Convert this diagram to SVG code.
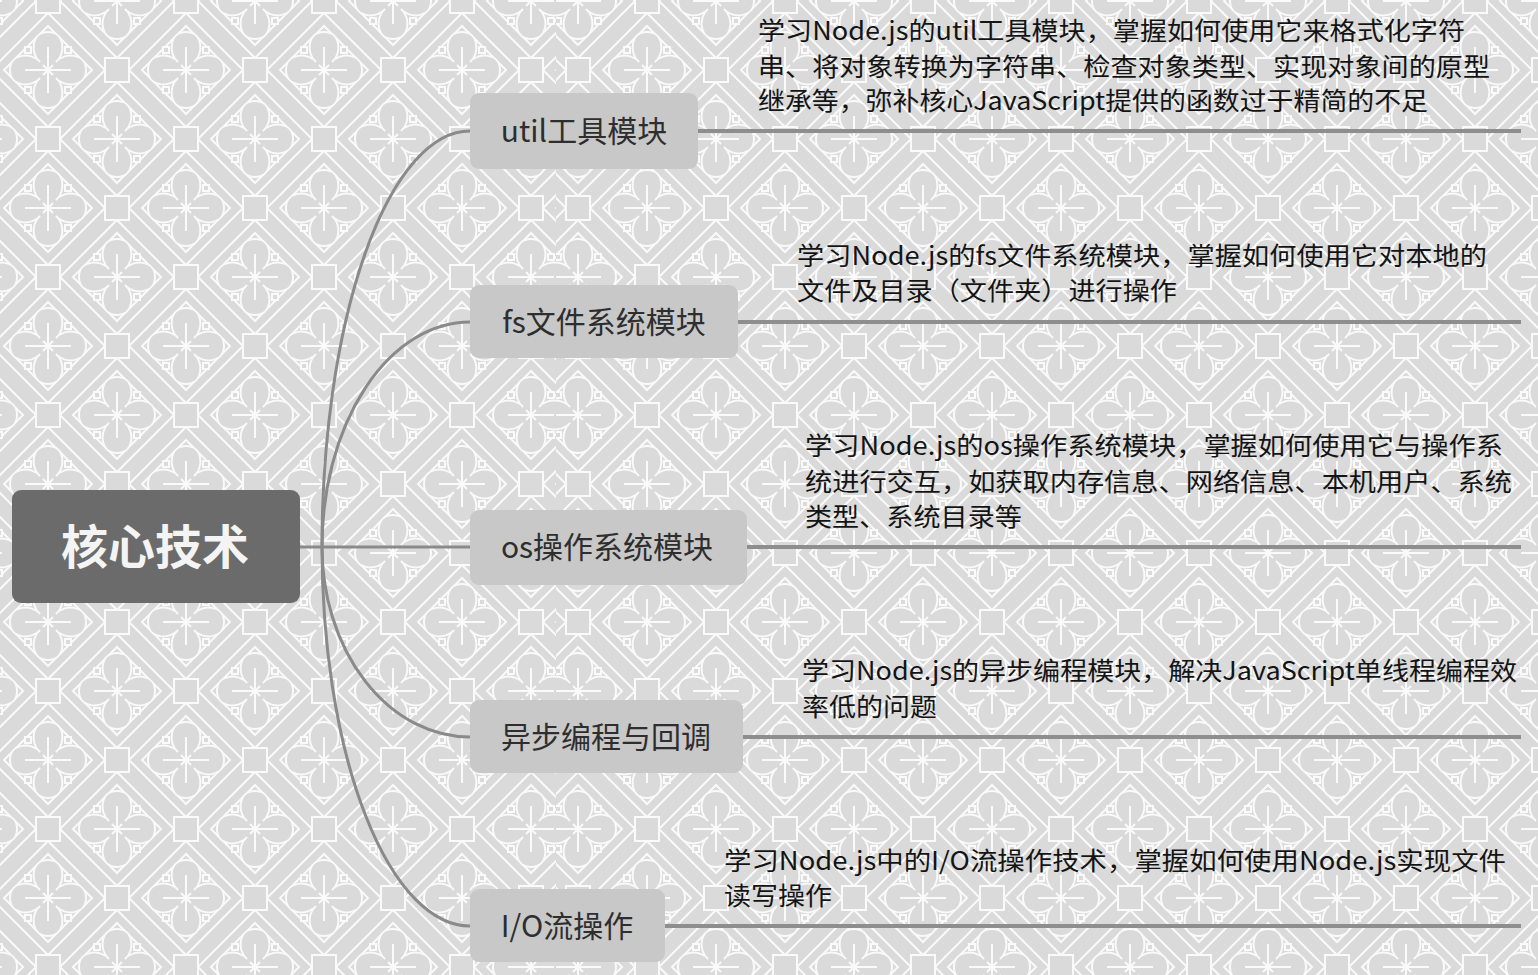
<svg xmlns="http://www.w3.org/2000/svg" xmlns:xlink="http://www.w3.org/1999/xlink" width="1538" height="975" viewBox="0 0 1538 975">
  <style>
    .pl{fill:none;stroke:#fafafa;stroke-width:2}
    .pf{fill:#dadada;stroke:#fafafa;stroke-width:2}
    .root-box{fill:#6b6b6b}
    .root-text{font-family:"Noto Sans CJK SC","Noto Sans",sans-serif;font-weight:bold;font-size:47px;fill:#f4f4f4;text-anchor:middle}
    .topic-box{fill:#c8c8c8}
    .topic-text{font-family:"Noto Sans CJK SC","Noto Sans",sans-serif;font-size:30px;fill:#2e2e2e;text-anchor:middle}
    .note{font-family:"Noto Sans CJK SC","Noto Sans",sans-serif;font-size:25px;fill:#141414}
    .branch{fill:none;stroke:#8a8a8a;stroke-width:3}
    .rule{fill:none;stroke:#8e8e8e;stroke-width:4}
  </style>
  <defs>
    <!-- quatrefoil motif with its two diamond frames -->
    <g id="flower">
      <polygon class="pl" points="57,0 0,57 -57,0 0,-57"/>
      <polygon class="pl" points="44,0 0,44 -44,0 0,-44"/>
      <path class="pf" d="M-8,-8 C-18,-16 -17,-38 0,-38 C17,-38 18,-16 8,-8 C16,-18 38,-17 38,0 C38,17 16,18 8,8 C18,16 17,38 0,38 C-17,38 -18,16 -8,8 C-16,18 -38,17 -38,0 C-38,-17 -16,-18 -8,-8 Z"/>
      <path class="pl" d="M-23,0H23M0,-23V23M-5,-5L5,5M5,-5L-5,5"/>
      <rect class="pf" x="-23" y="-23" width="6" height="6" stroke-width="1.5"/>
      <rect class="pf" x="17" y="-23" width="6" height="6" stroke-width="1.5"/>
      <rect class="pf" x="-23" y="17" width="6" height="6" stroke-width="1.5"/>
      <rect class="pf" x="17" y="17" width="6" height="6" stroke-width="1.5"/>
    </g>
    <rect id="knot" class="pf" x="-12" y="-12" width="24" height="24" stroke-width="2.5"/>
    <pattern id="tile" width="138" height="138" patternUnits="userSpaceOnUse" x="-21" y="1">
      <rect width="138" height="138" fill="#dadada"/>
      <use xlink:href="#flower" x="69" y="69"/>
      <use xlink:href="#flower" x="0" y="0"/>
      <use xlink:href="#flower" x="138" y="0"/>
      <use xlink:href="#flower" x="0" y="138"/>
      <use xlink:href="#flower" x="138" y="138"/>
      <use xlink:href="#knot" x="69" y="0"/>
      <use xlink:href="#knot" x="69" y="138"/>
      <use xlink:href="#knot" x="0" y="69"/>
      <use xlink:href="#knot" x="138" y="69"/>
    </pattern>
  </defs>

  <!-- tiled backdrop (two strips, the right one shifted) -->
  <g id="backdrop">
    <rect x="0" y="0" width="556" height="975" fill="url(#tile)"/>
    <rect x="509" y="0" width="1029" height="975" fill="url(#tile)" transform="translate(47,0)"/>
  </g>

  <!-- connectors -->
  <g id="connectors">
    <path class="branch" d="M300,547 H470"/>
    <path class="branch" d="M322,547 A148,416 0 0 1 470,131"/>
    <path class="branch" d="M322,547 A148,225 0 0 1 470,322"/>
    <path class="branch" d="M322,547 A148,190 0 0 0 470,737"/>
    <path class="branch" d="M322,547 A148,379 0 0 0 470,926"/>
    <path class="rule" d="M698,131 H1521"/>
    <path class="rule" d="M738,322 H1521"/>
    <path class="rule" d="M747,547 H1521"/>
    <path class="rule" d="M743,737 H1521"/>
    <path class="rule" d="M665,926 H1521"/>
  </g>

  <g id="root">
    <rect class="root-box" x="12" y="490" width="288" height="113" rx="9"/>
    <text class="root-text" x="155" y="564">核心技术</text>
  </g>

  <g id="util">
    <rect class="topic-box" x="470" y="93" width="228" height="76" rx="9"/>
    <text class="topic-text" x="584" y="142">util工具模块</text>
    <text class="note" x="758" y="40" textLength="707" lengthAdjust="spacingAndGlyphs">学习Node.js的util工具模块，掌握如何使用它来格式化字符</text>
    <text class="note" x="758" y="76" textLength="732" lengthAdjust="spacingAndGlyphs">串、将对象转换为字符串、检查对象类型、实现对象间的原型</text>
    <text class="note" x="758" y="110" textLength="670" lengthAdjust="spacingAndGlyphs">继承等，弥补核心JavaScript提供的函数过于精简的不足</text>
  </g>

  <g id="fs">
    <rect class="topic-box" x="470" y="285" width="268" height="73" rx="9"/>
    <text class="topic-text" x="604" y="333">fs文件系统模块</text>
    <text class="note" x="797" y="265" textLength="690" lengthAdjust="spacingAndGlyphs">学习Node.js的fs文件系统模块，掌握如何使用它对本地的</text>
    <text class="note" x="797" y="300" textLength="380" lengthAdjust="spacingAndGlyphs">文件及目录（文件夹）进行操作</text>
  </g>

  <g id="os">
    <rect class="topic-box" x="470" y="510" width="277" height="75" rx="9"/>
    <text class="topic-text" x="607" y="558">os操作系统模块</text>
    <text class="note" x="805" y="455" textLength="698" lengthAdjust="spacingAndGlyphs">学习Node.js的os操作系统模块，掌握如何使用它与操作系</text>
    <text class="note" x="805" y="491" textLength="707" lengthAdjust="spacingAndGlyphs">统进行交互，如获取内存信息、网络信息、本机用户、系统</text>
    <text class="note" x="805" y="526" textLength="217" lengthAdjust="spacingAndGlyphs">类型、系统目录等</text>
  </g>

  <g id="async">
    <rect class="topic-box" x="470" y="700" width="273" height="73" rx="9"/>
    <text class="topic-text" x="606" y="748">异步编程与回调</text>
    <text class="note" x="802" y="680" textLength="715" lengthAdjust="spacingAndGlyphs">学习Node.js的异步编程模块，解决JavaScript单线程编程效</text>
    <text class="note" x="802" y="716" textLength="135" lengthAdjust="spacingAndGlyphs">率低的问题</text>
  </g>

  <g id="io">
    <rect class="topic-box" x="470" y="889" width="195" height="73" rx="9"/>
    <text class="topic-text" x="567" y="937">I/O流操作</text>
    <text class="note" x="724" y="870" textLength="782" lengthAdjust="spacingAndGlyphs">学习Node.js中的I/O流操作技术，掌握如何使用Node.js实现文件</text>
    <text class="note" x="724" y="905" textLength="108" lengthAdjust="spacingAndGlyphs">读写操作</text>
  </g>
</svg>
